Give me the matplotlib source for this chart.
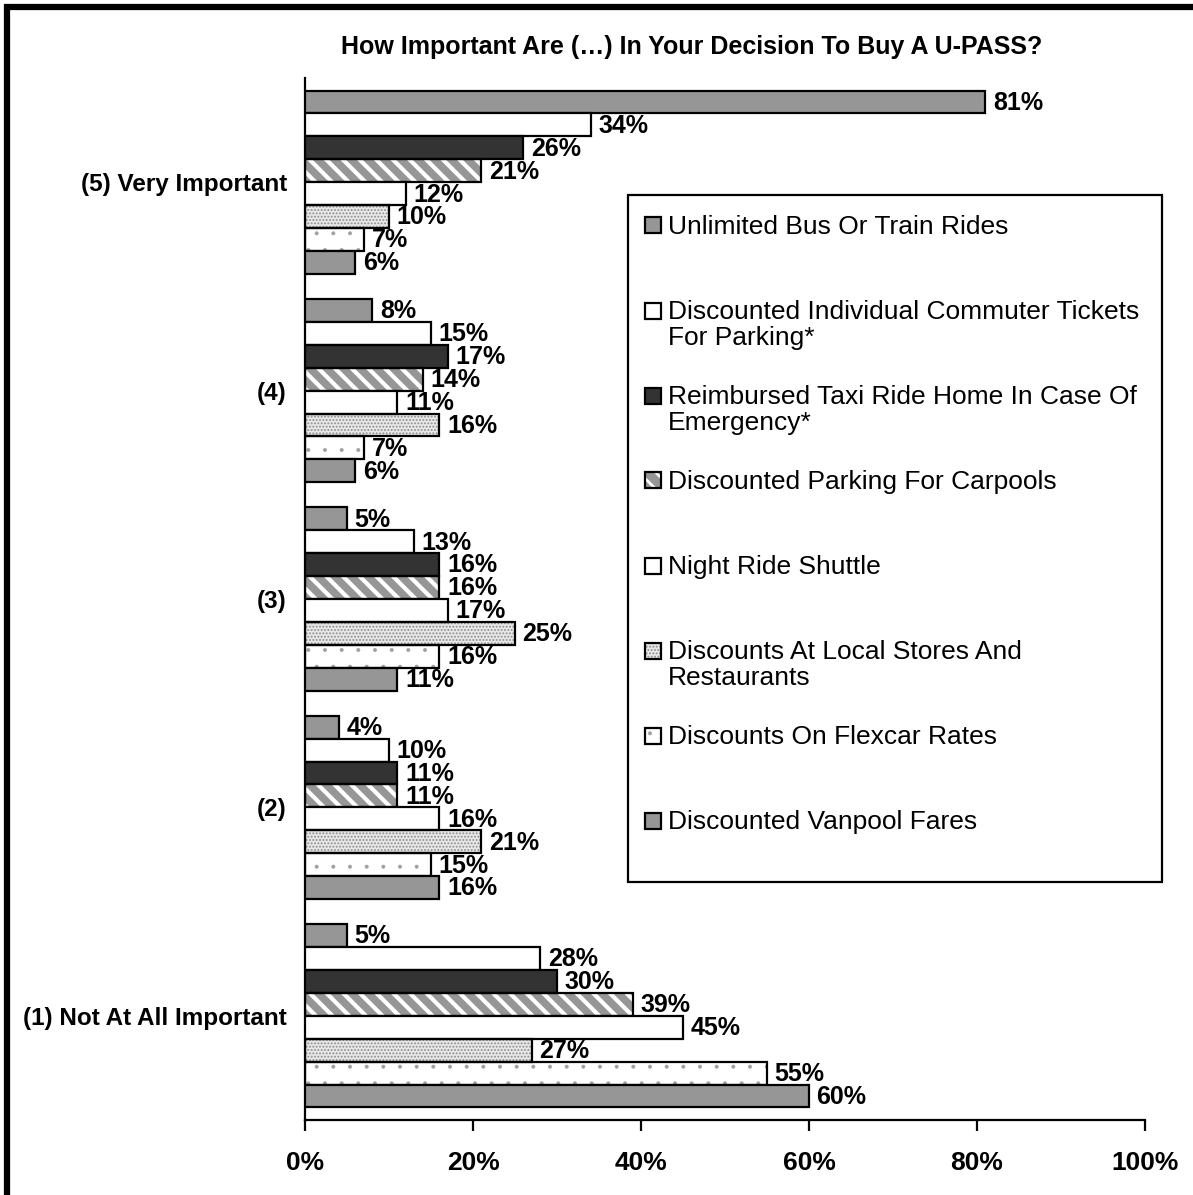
import numpy as np
import matplotlib.pyplot as plt
from matplotlib.patches import Rectangle

plt.rcParams['font.family'] = ['Liberation Sans', 'DejaVu Sans']

# categories, top to bottom
categories = ['(5) Very Important', '(4)', '(3)', '(2)', '(1) Not At All Important']

series_names = [
    'Unlimited Bus Or Train Rides',
    'Discounted Individual Commuter Tickets\nFor Parking*',
    'Reimbursed Taxi Ride Home In Case Of\nEmergency*',
    'Discounted Parking For Carpools',
    'Night Ride Shuttle',
    'Discounts At Local Stores And\nRestaurants',
    'Discounts On Flexcar Rates',
    'Discounted Vanpool Fares',
]

unlimited = [81, 8, 5, 4, 5]
commuter_tickets = [34, 15, 13, 10, 28]
taxi_home = [26, 17, 16, 11, 30]
carpool_parking = [21, 14, 16, 11, 39]
night_shuttle = [12, 11, 17, 16, 45]
local_stores = [10, 16, 25, 21, 27]
flexcar = [7, 7, 16, 15, 55]
vanpool = [6, 6, 11, 16, 60]

series_values = [unlimited, commuter_tickets, taxi_home, carpool_parking,
                 night_shuttle, local_stores, flexcar, vanpool]

xticks = [0, 20, 40, 60, 80, 100]

# (facecolor, hatch, hatch colour, hatch linewidth)
styles = [
    ('#969696', None, None, 0),
    ('white', None, None, 0),
    ('#333333', None, None, 0),
    ('#969696', '\\\\', 'white', 3.0),
    ('white', None, None, 0),
    ('#e8e8e8', '.....', '#8c8c8c', 0.9),
    ('white', '.', '#a0a0a0', 0.4),
    ('#969696', None, None, 0),
]

fig = plt.figure(figsize=(11.93, 11.95), dpi=100)
ax = fig.add_axes([0.2557, 0.0628, 0.7041, 0.8719])

n = len(series_names)
h = 0.11
y0 = np.arange(len(categories))

for i, (vals, (fc, hatch, hc, hlw)) in enumerate(zip(series_values, styles)):
    ypos = y0 - (n - 1) / 2 * h + i * h
    if hatch:
        plt.rcParams['hatch.linewidth'] = hlw
        ax.barh(ypos, vals, height=h, color=fc, edgecolor=hc, hatch=hatch,
                linewidth=0, zorder=2)
        ax.barh(ypos, vals, height=h, fill=False, edgecolor='black',
                linewidth=1.6, zorder=3)
    else:
        ax.barh(ypos, vals, height=h, color=fc, edgecolor='black',
                linewidth=1.6, zorder=3)
    for y, v in zip(ypos, vals):
        ax.text(v + 0.9, y + 0.004, f'{v}%', va='center', ha='left', fontsize=18,
                fontweight='bold', zorder=4)

ax.set_ylim(len(categories) - 0.5, -0.5)
ax.set_xlim(0, 100)
ax.set_yticks(y0)
ax.set_yticklabels(categories, fontsize=17.5, fontweight='bold')
ax.tick_params(axis='y', length=0, pad=13)
ax.set_xticks(xticks)
ax.set_xticklabels([f'{t}%' for t in xticks], fontsize=19, fontweight='bold')
ax.tick_params(axis='x', direction='out', length=8, width=1.6, pad=14)
for s in ['top', 'right']:
    ax.spines[s].set_visible(False)
for s in ['left', 'bottom']:
    ax.spines[s].set_linewidth(1.6)

fig.text(0.580, 0.9607, 'How Important Are (\u2026) In Your Decision To Buy A U-PASS?',
         ha='center', va='center', fontsize=18, fontweight='bold')

# legend box drawn by hand to keep the handle beside the first text line
fig.patches.append(Rectangle((628 / 1193, 1 - 882 / 1195), 534 / 1193, 687 / 1195,
                             transform=fig.transFigure, facecolor='white',
                             edgecolor='black', linewidth=1.6, zorder=5))
for i, (name, (fc, hatch, hc, hlw)) in enumerate(zip(series_names, styles)):
    yc = 1 - (225 + 85 * i) / 1195
    x0, y1 = 645 / 1193, yc - 8.5 / 1195
    w, hh = 16 / 1193, 16 / 1195
    if hatch:
        plt.rcParams['hatch.linewidth'] = min(hlw, 2.0)
        fig.patches.append(Rectangle((x0, y1), w, hh, transform=fig.transFigure,
                                     facecolor=fc, edgecolor=hc, hatch=hatch,
                                     linewidth=0, zorder=6))
        fig.patches.append(Rectangle((x0, y1), w, hh, transform=fig.transFigure,
                                     fill=False, edgecolor='black',
                                     linewidth=1.6, zorder=6))
    else:
        fig.patches.append(Rectangle((x0, y1), w, hh, transform=fig.transFigure,
                                     facecolor=fc, edgecolor='black',
                                     linewidth=1.6, zorder=6))
    fig.text(668 / 1193, yc + 10 / 1195, name, ha='left', va='top',
             fontsize=19, linespacing=1.12, zorder=6)

# outer frame (top and left visible)
fig.patches.append(Rectangle((7 / 1193, -0.05), 1.2, 1.05 - 7 / 1195,
                             transform=fig.transFigure, fill=False,
                             edgecolor='black', linewidth=4.5, zorder=10))

fig.savefig('out.png', dpi=100)
